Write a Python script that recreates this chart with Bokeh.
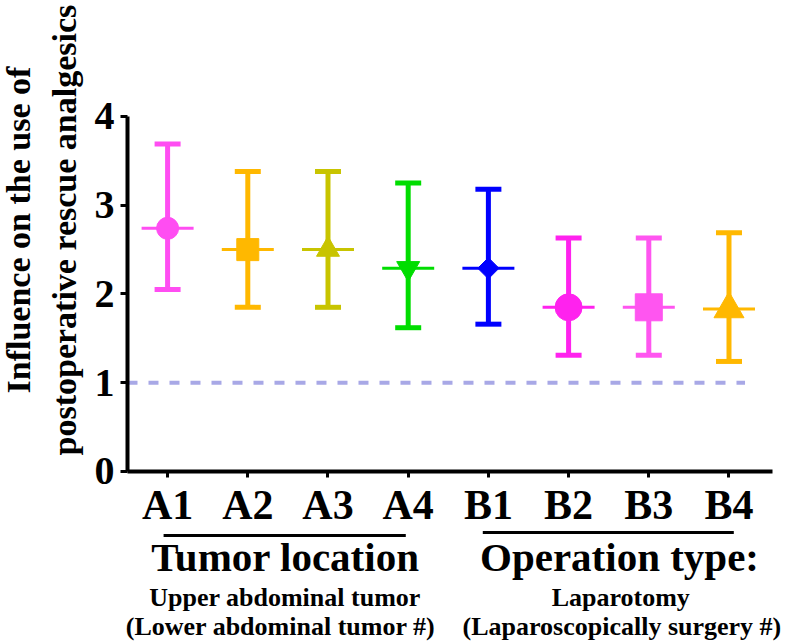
from math import pi
from bokeh.plotting import figure
from bokeh.models import FixedTicker, Range1d
from bokeh.core.properties import value
from bokeh.embed import file_html
from bokeh.resources import INLINE

# ---- data ----
categories = ["A1", "A2", "A3", "A4", "B1", "B2", "B3", "B4"]
means = [2.74, 2.50, 2.50, 2.29, 2.29, 1.85, 1.85, 1.83]
upper = [3.69, 3.38, 3.38, 3.25, 3.18, 2.63, 2.63, 2.69]
lower = [2.05, 1.85, 1.85, 1.62, 1.66, 1.31, 1.31, 1.24]
y_ticks = [0, 1, 2, 3, 4]
reference_value = 1
group_titles = ["Tumor location", "Operation type:"]
group_members = [["A1", "A2", "A3", "A4"], ["B1", "B2", "B3", "B4"]]
group_notes = [["Upper abdominal tumor", "(Lower abdominal tumor #)"],
               ["Laparotomy", "(Laparoscopically surgery #)"]]
y_title = ["Influence on the use of", "postoperative rescue analgesics"]

# ---- styles ----
colors = ["#FF4DF2", "#FFB800", "#C8C400", "#00DD00", "#0000FF", "#FF22EE", "#FF55F0", "#FFB800"]
markers = ["circle", "square", "triangle", "inverted_triangle", "square", "circle", "square", "triangle"]
marker_sizes = [22, 22, 23, 23, 15, 27, 27, 30]
marker_angles = [0, 0, 0, 0, pi / 4, 0, 0, 0]
FONT = "Liberation Serif"

xs = list(range(len(categories)))
pos = {c: i for i, c in enumerate(categories)}

# whole canvas is the plotting frame; axes are pinned at x=-0.5 / y=0
p = figure(width=786, height=644,
           x_range=Range1d(-2.0835, 7.7171),
           y_range=Range1d(-1.9493, 5.3070),
           min_border=0, output_backend="svg", toolbar_location=None)
p.outline_line_color = None
p.grid.visible = False
p.background_fill_color = "white"
p.border_fill_color = "white"

# reference dashed line
p.segment(x0=[-0.5], y0=[reference_value], x1=[len(categories) - 1 + 0.2],
          y1=[reference_value], line_color="#A8A8E6", line_width=4, line_dash="10 11")

# error bars
p.segment(x0=xs, y0=lower, x1=xs, y1=upper, line_color=colors, line_width=5)
p.scatter(x=xs + xs, y=upper + lower, marker="dash", size=26,
          line_color=colors + colors, line_width=5)
# mean lines
p.scatter(x=xs, y=means, marker="dash", size=52, line_color=colors, line_width=3)
# markers
p.scatter(x=xs, y=means, marker=markers, size=marker_sizes, angle=marker_angles,
          fill_color=colors, line_color=colors, line_width=1)

# axes
for ax in (p.xaxis, p.yaxis):
    ax.axis_line_width = 4
    ax.axis_line_color = "black"
    ax.major_tick_line_width = 3
    ax.major_tick_line_color = "black"
    ax.major_tick_in = 0
    ax.minor_tick_line_color = None
    ax.major_label_text_font = FONT
    ax.major_label_text_font_style = "bold"
    ax.major_label_text_color = "black"
    ax.major_label_text_font_size = "40px"

p.yaxis.fixed_location = -0.5
p.yaxis.bounds = (0, 4)
p.yaxis.ticker = FixedTicker(ticks=y_ticks)
p.yaxis.major_tick_out = 7
p.yaxis.major_label_standoff = 6

p.xaxis.fixed_location = 0
p.xaxis.bounds = (-0.5, 7.54)
p.xaxis.ticker = FixedTicker(ticks=xs)
p.xaxis.major_label_overrides = {i: c for i, c in enumerate(categories)}
p.xaxis.major_label_text_font_size = "42px"
p.xaxis.major_tick_out = 6
p.xaxis.major_label_standoff = 5

# y title (two lines)
p.text(x=[-1.859, -1.285], y=[2.72, 2.72], text=y_title, angle=pi / 2,
       text_align="center", text_baseline="middle", text_font=value(FONT),
       text_font_style="bold", text_font_size="34px", text_color="black")

# group brackets and labels
bracket_pad = [(-0.05, -0.03), (-0.07, 0.06)]
bracket_y = [-0.721, -0.687]
title_shift = [-0.03, 0.135]
note_shift = [[-0.036, -0.09], [0.15, 0.165]]
bx0, bx1, tx, nx1, nx2 = [], [], [], [], []
for g, members in enumerate(group_members):
    i0, i1 = pos[members[0]], pos[members[-1]]
    center = (i0 + i1) / 2
    bx0.append(i0 + bracket_pad[g][0])
    bx1.append(i1 + bracket_pad[g][1])
    tx.append(center + title_shift[g])
    nx1.append(center + note_shift[g][0])
    nx2.append(center + note_shift[g][1])

p.segment(x0=bx0, y0=bracket_y, x1=bx1, y1=bracket_y, line_color="black", line_width=3)
p.text(x=tx, y=[-0.958, -0.958], text=group_titles, text_align="center",
       text_baseline="alphabetic", text_font=value(FONT), text_font_style="bold",
       text_font_size="41px", text_color="black")
p.text(x=nx1, y=[-1.42, -1.42], text=[n[0] for n in group_notes], text_align="center",
       text_baseline="alphabetic", text_font=value(FONT), text_font_style="bold",
       text_font_size="26px", text_color="black")
p.text(x=nx2, y=[-1.746, -1.746], text=[n[1] for n in group_notes], text_align="center",
       text_baseline="alphabetic", text_font=value(FONT), text_font_style="bold",
       text_font_size="26px", text_color="black")

open("out.html", "w").write(file_html(p, INLINE))
